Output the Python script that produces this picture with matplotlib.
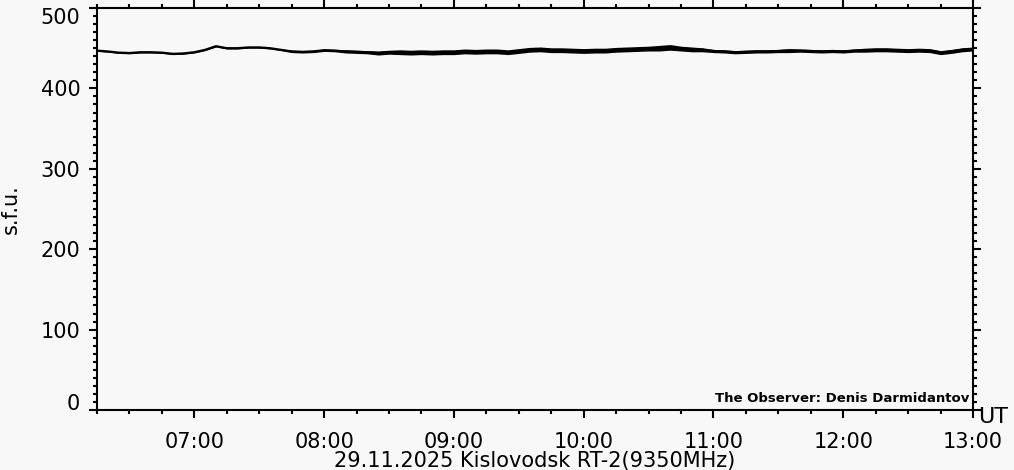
"""
    Kislovodsk RT-2 9350 MHz solar flux for 29.11.2025
"""
import numpy as np
import matplotlib
matplotlib.use("Agg")
import matplotlib.pyplot as plt
from matplotlib.ticker import MultipleLocator, FuncFormatter

# samples every 5 minutes from 06:15 UT
start_hour = 6.25
step_min = 5
sfu = [
    447.0, 446.0, 444.5, 444.0, 445.0, 445.0, 444.5, 443.0, 443.5, 445.0,
    448.0, 452.5, 450.0, 450.0, 451.0, 451.0, 450.0, 448.0, 446.0, 445.5,
    446.0, 447.5, 447.0, 446.0, 445.5, 445.0, 444.0, 445.0, 445.0, 444.5,
    445.0, 444.5, 445.0, 445.0, 446.0, 445.5, 446.0, 446.0, 445.0, 446.5,
    448.0, 448.5, 447.5, 447.5, 447.0, 446.5, 447.0, 447.0, 448.0, 448.5,
    449.0, 449.5, 450.0, 451.0, 449.5, 448.5, 448.0, 446.5, 446.0, 445.0,
    445.5, 446.0, 446.0, 446.5, 447.0, 447.0, 446.5, 446.0, 446.5, 446.0,
    447.0, 447.5, 448.0, 448.0, 447.5, 447.0, 447.5, 447.0, 444.5, 446.0,
    448.0, 449.0,
]
# half width of the noise band around the curve
spread = [
    1.0, 1.0, 1.0, 1.0, 1.0, 1.0, 1.0, 1.0, 1.0, 1.0,
    1.0, 1.0, 1.0, 1.0, 1.0, 1.0, 1.0, 1.0, 1.5, 1.5,
    1.5, 1.5, 1.5, 2.0, 2.0, 2.0, 2.5, 2.5, 3.0, 3.0,
    3.0, 3.0, 3.0, 3.0, 3.0, 3.0, 3.0, 3.0, 3.0, 3.0,
    3.0, 3.0, 3.0, 3.0, 3.0, 3.0, 3.0, 3.0, 3.0, 3.0,
    3.0, 3.0, 3.5, 3.5, 3.0, 3.0, 2.5, 2.0, 2.0, 2.0,
    2.0, 2.0, 2.0, 2.0, 2.5, 2.0, 2.0, 2.0, 2.0, 2.0,
    2.0, 2.5, 2.5, 2.5, 2.5, 2.5, 2.5, 2.5, 2.5, 2.5,
    2.5, 2.5,
]
title = "29.11.2025 Kislovodsk RT-2(9350MHz)"
observer = "The Observer: Denis Darmidantov"

bg = "#f8f8f8"
hours = start_hour + np.arange(len(sfu)) * step_min / 60.0
sfu = np.array(sfu)
spread = np.array(spread)

plt.rcParams["font.family"] = ["DejaVu Sans"]
fig = plt.figure(figsize=(10.14, 4.70), dpi=100, facecolor=bg)
ax = fig.add_axes([97 / 1014, 1 - 410 / 470, (973 - 97) / 1014, (410 - 8) / 470])
ax.set_facecolor(bg)

ax.fill_between(hours, sfu - spread, sfu + spread, color="black", lw=0)
ax.plot(hours, sfu, color="black", lw=1.6)

ymin, ymax = 0, 500
ax.set_xlim(6.25, 13.0)
ax.set_ylim(ymin, ymax)
ax.xaxis.set_major_locator(MultipleLocator(1))
ax.xaxis.set_minor_locator(MultipleLocator(0.25))
ax.yaxis.set_major_locator(MultipleLocator(100))
ax.yaxis.set_minor_locator(MultipleLocator(10))
ax.xaxis.set_major_formatter(FuncFormatter(lambda v, p: "{:02d}:00".format(int(round(v)))))
# end labels are drawn separately, shifted inside like the original
ax.yaxis.set_major_formatter(FuncFormatter(
    lambda v, p: "" if v in (ymin, ymax) else "{:d}".format(int(v))))

for s in ax.spines.values():
    s.set_linewidth(1.5)
ax.tick_params(which="both", direction="out", width=1.5, top=True, right=True,
               labelsize=15, colors="black")
ax.tick_params(which="major", length=6)
ax.tick_params(which="minor", length=3)
ax.tick_params(axis="y", which="major", pad=6)
ax.tick_params(axis="x", which="major", pad=10)

ylab_tr = ax.get_yaxis_transform()
ax.text(-0.0195, ymin, "{:d}".format(ymin), transform=ylab_tr, ha="right", va="baseline",
        fontsize=15, clip_on=False)
ax.text(-0.0195, ymax, "{:d}".format(ymax), transform=ylab_tr, ha="right", va="top",
        fontsize=15, clip_on=False)

ax.set_xlabel(title, fontsize=15, labelpad=-1)
ax.set_ylabel("s.f.u.", fontsize=15, labelpad=14)

ax.text(0.996, 0.012, observer, transform=ax.transAxes, ha="right", va="bottom",
        fontsize=9.5, fontweight="bold")
ax.text(1.006, 0.0075, "UT", transform=ax.transAxes, ha="left", va="top",
        fontsize=16, clip_on=False)

plt.savefig("out.png", dpi=100, facecolor=bg)
